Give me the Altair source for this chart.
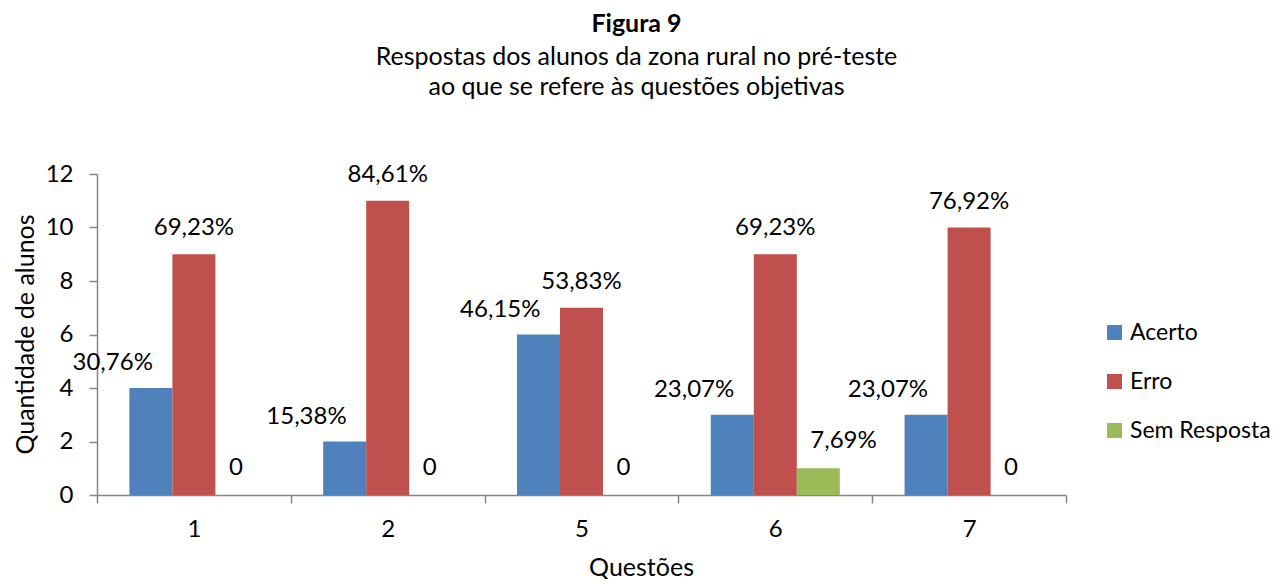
import altair as alt
import pandas as pd

questoes = ["1", "2", "5", "6", "7"]
series = ["Acerto", "Erro", "Sem Resposta"]
cores = ["#4F81BD", "#C0504D", "#9BBB59"]
acerto = [4, 2, 6, 3, 3]
erro = [9, 11, 7, 9, 10]
sem_resposta = [0, 0, 0, 1, 0]
rot_acerto = ["30,76%", "15,38%", "46,15%", "23,07%", "23,07%"]
rot_erro = ["69,23%", "84,61%", "53,83%", "69,23%", "76,92%"]
rot_sem = ["0", "0", "0", "7,69%", "0"]

rows = []
for s, vals, rots in zip(series, [acerto, erro, sem_resposta], [rot_acerto, rot_erro, rot_sem]):
    for q, v, r in zip(questoes, vals, rots):
        rows.append({"questao": q, "serie": s, "valor": v, "rotulo": r})
df = pd.DataFrame(rows)

FONT = "Lato"
AX = "#868686"
FS = 24

base = alt.Chart(df).encode(
    x=alt.X(
        "questao:N",
        sort=questoes,
        scale=alt.Scale(paddingInner=0, paddingOuter=0),
        axis=alt.Axis(
            title="Questões",
            labelAngle=0,
            tickBand="extent",
            tickSize=8,
            tickColor=AX,
            tickWidth=1.5,
            domainColor=AX,
            domainWidth=1.5,
            labelFontSize=FS,
            labelColor="black",
            labelPadding=14,
            titleFontSize=25,
            titleFontWeight="normal",
            titleColor="black",
            titleX=544,
            titleY=80,
            titleAlign="center",
            titleBaseline="alphabetic",
        ),
    ),
    xOffset=alt.XOffset("serie:N", sort=series,
                        scale=alt.Scale(domain=series, paddingInner=0, paddingOuter=0.753)),
    y=alt.Y(
        "valor:Q",
        scale=alt.Scale(domain=[0, 12], nice=False),
        axis=alt.Axis(
            title="Quantidade de alunos",
            values=[0, 2, 4, 6, 8, 10, 12],
            grid=False,
            tickSize=8,
            tickColor=AX,
            tickWidth=1.5,
            domainColor=AX,
            domainWidth=1.5,
            labelFontSize=FS,
            labelColor="black",
            labelPadding=16,
            titleFontSize=25,
            titleFontWeight="normal",
            titleColor="black",
            titleAngle=270,
            titleX=-72,
            titleY=160,
            titleAlign="center",
            titleBaseline="middle",
        ),
    ),
)

bars = base.mark_bar().encode(
    color=alt.Color(
        "serie:N",
        scale=alt.Scale(domain=series, range=cores),
        legend=alt.Legend(
            title=None,
            orient="none",
            legendX=1006,
            legendY=147,
            symbolType="square",
            symbolSize=225,
            symbolStrokeWidth=0,
            labelFontSize=23,
            labelColor="black",
            labelOffset=4,
            rowPadding=25,
        ),
    )
)

t_acerto = base.transform_filter(alt.datum.serie == "Acerto").mark_text(
    align="right", baseline="middle", dx=2, dy=-25, fontSize=FS, color="black"
).encode(text="rotulo:N")

t_erro = base.transform_filter(alt.datum.serie == "Erro").mark_text(
    align="center", baseline="middle", dx=0, dy=-26, fontSize=FS, color="black"
).encode(text="rotulo:N")

t_sem = base.transform_filter(alt.datum.serie == "Sem Resposta").mark_text(
    align="left", baseline="middle", dx=-8, dy=-27, fontSize=FS, color="black"
).encode(text="rotulo:N")

chart = alt.layer(bars, t_acerto, t_erro, t_sem).properties(
    width=969,
    height=321,
    autosize=alt.AutoSizeParams(type="none"),
    padding={"left": 89, "top": 166, "right": 209, "bottom": 84},
    title=alt.TitleParams(
        text="Figura 9",
        subtitle=["Respostas dos alunos da zona rural no pré-teste",
                  "ao que se refere às questões objetivas"],
        fontSize=25,
        fontWeight="bold",
        color="black",
        subtitleFontSize=25,
        subtitleColor="black",
        subtitleLineHeight=30,
        subtitlePadding=8,
        anchor="middle",
        dx=55,
        offset=62,
    ),
).configure(font=FONT).configure_view(stroke=None)

chart.save("out.html", embed_options={"renderer": "svg", "actions": False})
